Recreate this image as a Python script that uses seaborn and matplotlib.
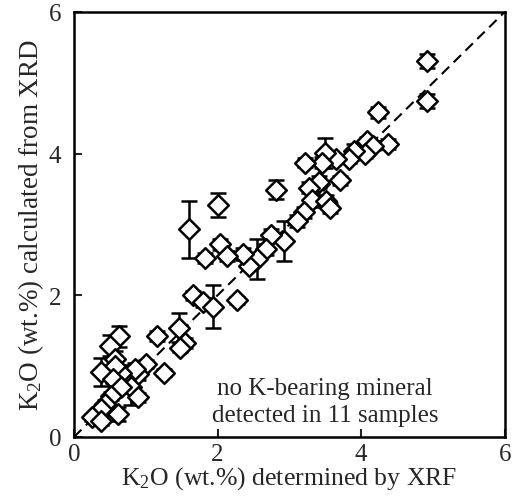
import numpy as np
import pandas as pd
import matplotlib
matplotlib.use("Agg")
import matplotlib.pyplot as plt
import seaborn as sns

xrf = [4.92, 4.91, 4.24, 4.375, 4.08, 4.17, 4.05, 3.90, 3.83, 3.65, 3.50, 3.45, 3.22, 3.70, 3.41,
       3.27, 2.81, 3.32, 3.51, 3.56, 3.21, 3.10, 2.00, 1.60, 2.93, 2.75, 2.68, 2.55, 2.44, 2.35,
       2.03, 2.13, 1.83, 2.27, 1.66, 1.79, 1.935, 1.46, 1.54, 1.47, 1.15, 1.26, 1.00, 0.89, 0.85,
       0.79, 0.89, 0.66, 0.62, 0.50, 0.57, 0.57, 0.37, 0.55, 0.66, 0.52, 0.43, 0.38, 0.25, 0.38, 0.61]
xrd = [5.31, 4.74, 4.58, 4.14, 4.17, 4.11, 4.00, 4.03, 3.92, 3.92, 4.01, 3.87, 3.87, 3.62, 3.60,
       3.52, 3.49, 3.35, 3.33, 3.23, 3.17, 3.05, 3.28, 2.93, 2.77, 2.85, 2.65, 2.51, 2.42, 2.58,
       2.72, 2.55, 2.53, 1.93, 2.00, 1.90, 1.84, 1.545, 1.33, 1.26, 1.43, 0.91, 1.03, 0.89, 0.96,
       0.70, 0.56, 0.91, 1.42, 1.29, 1.10, 1.00, 0.92, 0.82, 0.70, 0.58, 0.46, 0.39, 0.28, 0.23, 0.32]
err = [0.10, 0.10, 0.08, 0.07, 0.07, 0.06, 0.06, 0.10, 0.06, 0.06, 0.21, 0.08, 0.06, 0.07, 0.08,
       0.08, 0.13, 0.10, 0.08, 0.07, 0.08, 0.08, 0.17, 0.40, 0.28, 0.08, 0.08, 0.28, 0.06, 0.08,
       0.08, 0.07, 0.07, 0.05, 0.06, 0.06, 0.30, 0.20, 0.07, 0.06, 0.07, 0.05, 0.06, 0.08, 0.08,
       0.25, 0.06, 0.10, 0.15, 0.15, 0.12, 0.10, 0.20, 0.06, 0.08, 0.06, 0.06, 0.06, 0.05, 0.06, 0.10]
one_to_one = [0, 6]
ticks = [0, 2, 4, 6]

df = pd.DataFrame({"xrf": xrf, "xrd": xrd, "err": err})

sns.set_style("ticks")
plt.rcParams["font.family"] = ["Liberation Serif", "DejaVu Serif"]
plt.rcParams["mathtext.fontset"] = "custom"
plt.rcParams["mathtext.rm"] = "Liberation Serif"
plt.rcParams["mathtext.it"] = "Liberation Serif:italic"

fig = plt.figure(figsize=(5.12, 5.02), dpi=100)
ax = fig.add_axes([0.1445, 0.1275, 0.8415, 0.847])

ax.plot(one_to_one, one_to_one, ls=(0, (5, 3)), color="black", lw=1.5, zorder=1)
ax.errorbar(df["xrf"], df["xrd"], yerr=df["err"], fmt="none", ecolor="black",
            elinewidth=1.8, capsize=5.5, capthick=1.8, zorder=2)
sns.scatterplot(data=df, x="xrf", y="xrd", marker="D", s=110, facecolor="white",
                edgecolor="black", linewidth=1.8, ax=ax, zorder=3)

ax.set_xlim(0, 6)
ax.set_ylim(0, 6)
ax.set_xticks(ticks)
ax.set_yticks(ticks)
ax.set_xticklabels([str(t) for t in ticks])
ax.set_yticklabels([str(t) for t in ticks])
ax.tick_params(direction="in", length=6, width=1.5, labelsize=18)
ax.tick_params(axis="x", pad=4)
ax.tick_params(axis="y", pad=9)
for s in ax.spines.values():
    s.set_linewidth(1.8)
    s.set_color("black")
ax.set_xlabel(r"K$_2$O (wt.%) determined by XRF", fontsize=18.5, labelpad=0)
ax.set_ylabel(r"K$_2$O (wt.%) calculated from XRD", fontsize=19.5, labelpad=2)
ax.text(3.5, 0.5, "no K-bearing mineral\ndetected in 11 samples", ha="center",
        va="center", fontsize=18, linespacing=1.3)

fig.savefig("out.png", dpi=100)
